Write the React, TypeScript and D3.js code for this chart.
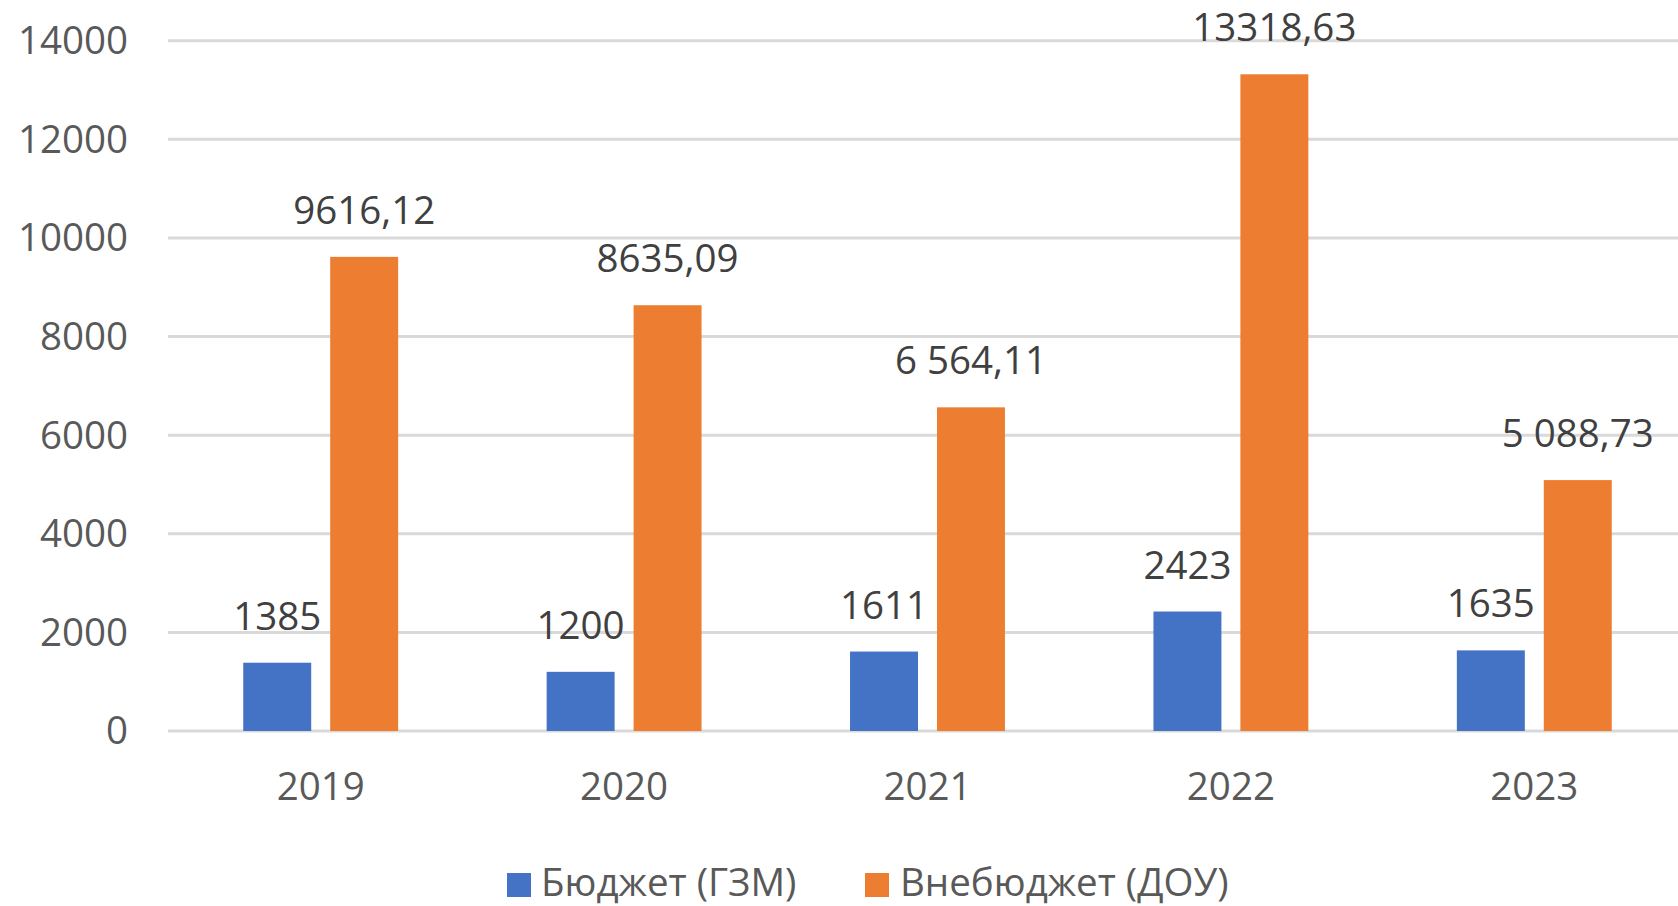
import React from "react";
import * as d3 from "d3";

const years = ["2019", "2020", "2021", "2022", "2023"];
const budget = [1385, 1200, 1611, 2423, 1635];
const budgetLabels = ["1385", "1200", "1611", "2423", "1635"];
const extra = [9616.12, 8635.09, 6564.11, 13318.63, 5088.73];
const extraLabels = ["9616,12", "8635,09", "6 564,11", "13318,63", "5 088,73"];
const yTicks = [0, 2000, 4000, 6000, 8000, 10000, 12000, 14000];
const seriesNames = ["Бюджет (ГЗМ)", "Внебюджет (ДОУ)"];
const colors = ["#4472C4", "#ED7D31"];

const W = 1678;
const H = 906;
const FONT = "'Open Sans', sans-serif";
const FS = 38.5;

export default function App() {
  const x = d3.scaleBand<string>().domain(years).range([169, 1686]).padding(0);
  const step = x.step();
  const barW = step * 0.224;
  const gap = step * 0.0626;
  const y = d3.scaleLinear().domain([0, 14000]).range([731, 40.7]);
  const series = [budget, extra];
  const labels = [budgetLabels, extraLabels];

  return (
    <div style={{ position: "fixed", left: 0, top: 0, width: W, height: H, background: "#fff" }}>
      <svg width={W} height={H} style={{ display: "block" }} fontFamily={FONT}>
        {yTicks.map((t) => (
          <g key={t}>
            <line x1={168} x2={W} y1={y(t)} y2={y(t)} stroke="#d9d9d9" strokeWidth={3} />
            <text x={128} y={y(t)} dy="0.35em" textAnchor="end" fontSize={FS} fill="#595959">
              {t}
            </text>
          </g>
        ))}
        {years.map((yr, i) => {
          const cx = (x(yr) as number) + step / 2;
          return (
            <g key={yr}>
              {series.map((s, k) => {
                const bx = k === 0 ? cx - gap / 2 - barW : cx + gap / 2;
                return (
                  <g key={k}>
                    <rect x={bx} y={y(s[i])} width={barW} height={y(0) - y(s[i])} fill={colors[k]} />
                    <text x={bx + barW / 2} y={y(s[i]) - 33} textAnchor="middle" fontSize={FS} fill="#404040">
                      {labels[k][i]}
                    </text>
                  </g>
                );
              })}
              <text x={cx} y={800} textAnchor="middle" fontSize={FS} fill="#595959">
                {yr}
              </text>
            </g>
          );
        })}
        <g>
          <rect x={507} y={873} width={24} height={24} fill={colors[0]} />
          <text x={541} y={896} fontSize={FS} fill="#595959">{seriesNames[0]}</text>
          <rect x={865} y={873} width={24} height={24} fill={colors[1]} />
          <text x={900} y={896} fontSize={FS} fill="#595959">{seriesNames[1]}</text>
        </g>
      </svg>
    </div>
  );
}
